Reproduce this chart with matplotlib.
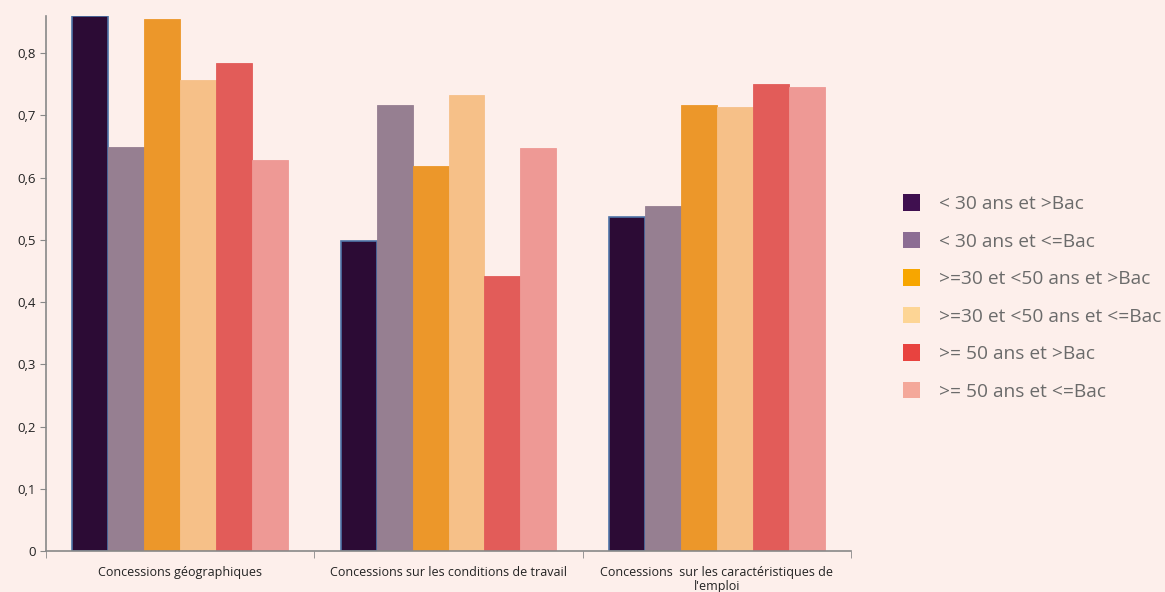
import numpy as np
import matplotlib.pyplot as plt
from matplotlib.patches import Patch

# données
categories = ["Concessions géographiques",
              "Concessions sur les conditions de travail",
              "Concessions  sur les caractéristiques de\nl'emploi"]
series = ["< 30 ans et >Bac", "< 30 ans et <=Bac",
          ">=30 et <50 ans et >Bac", ">=30 et <50 ans et <=Bac",
          ">= 50 ans et >Bac", ">= 50 ans et <=Bac"]
moins30_plus_bac = [0.859, 0.498, 0.537]
moins30_bac = [0.649, 0.716, 0.554]
de30a50_plus_bac = [0.855, 0.618, 0.716]
de30a50_bac = [0.757, 0.733, 0.713]
plus50_plus_bac = [0.784, 0.442, 0.750]
plus50_bac = [0.628, 0.647, 0.745]
values = [moins30_plus_bac, moins30_bac, de30a50_plus_bac,
          de30a50_bac, plus50_plus_bac, plus50_bac]

bar_colors = ['#2C0B35', '#967F91', '#EC972A', '#F6C088', '#E25C59', '#EE9995']
leg_colors = ['#3F0F4F', '#8C6D93', '#F7A600', '#FDD595', '#E8433F', '#F4A89A']
bg = '#FDEFEB'

plt.rcParams['font.family'] = ['Open Sans', 'DejaVu Sans']

fig = plt.figure(figsize=(11.65, 5.92), dpi=100, facecolor=bg)
ax = fig.add_axes([0.0395, 0.0693, 0.691, 0.904], facecolor=bg)

x = np.arange(len(categories))
w = 0.134
for i, vals in enumerate(values):
    ec = '#4F74A8' if i == 0 else bar_colors[i]
    ax.bar(x + (i - 2.5) * w, vals, width=w, color=bar_colors[i],
           edgecolor=ec, linewidth=1.2 if i == 0 else 0.6)

ax.set_xlim(-0.5, 2.5)
ax.set_ylim(0, 0.86)
ax.set_yticks(np.arange(0, 0.81, 0.1))
ax.set_yticklabels(['0'] + [f"{v:.1f}".replace('.', ',') for v in np.arange(0.1, 0.81, 0.1)])
ax.set_xticks(x)
ax.set_xticklabels(categories, fontsize=9, color='#222222', linespacing=1.05)
ax.set_xticks([-0.5, 0.5, 1.5, 2.5], minor=True)
ax.tick_params(axis='x', which='major', length=0, pad=11)
ax.tick_params(axis='x', which='minor', length=5, color='#888888')
ax.tick_params(axis='y', length=4, color='#888888', labelsize=9.5, labelcolor='#222222')

for s in ['top', 'right']:
    ax.spines[s].set_visible(False)
for s in ['left', 'bottom']:
    ax.spines[s].set_color('#888888')
    ax.spines[s].set_linewidth(1.2)

handles = [Patch(facecolor=c, edgecolor='none') for c in leg_colors]
fig.legend(handles, series, loc='center left', bbox_to_anchor=(0.760, 0.4975),
           frameon=False, fontsize=13.8, labelcolor='#6B6B6B',
           handlelength=0.93, handleheight=0.93, handletextpad=0.95,
           labelspacing=0.98)

fig.savefig('out.png', dpi=100, facecolor=bg)
